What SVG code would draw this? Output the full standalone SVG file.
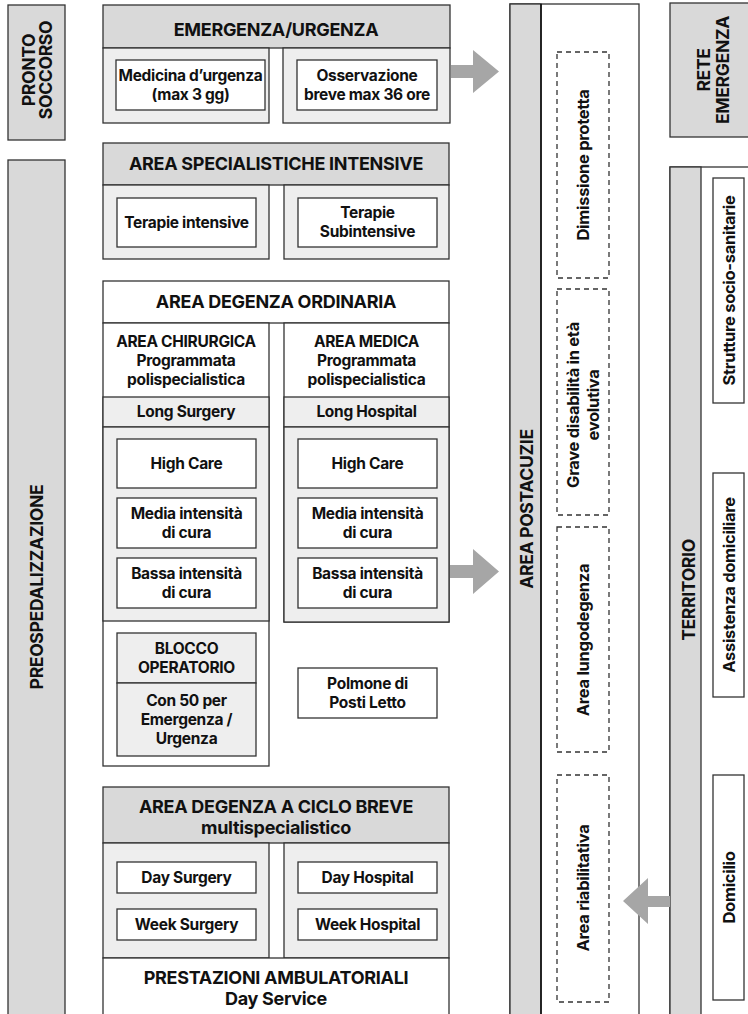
<svg xmlns="http://www.w3.org/2000/svg" width="748" height="1014" viewBox="0 0 748 1014">
<style>
  .hd { fill: #d9d9d9; stroke: #333; stroke-width: 1.3; }
  .pn { fill: #eeeeee; stroke: #333; stroke-width: 1.3; }
  .wb { fill: #ffffff; stroke: #333; stroke-width: 1.3; }
  .db { fill: none; stroke: #333; stroke-width: 1.3; stroke-dasharray: 5 4; }
  .ln { stroke: #111; stroke-width: 1.6; fill: none; }
  .arr { fill: #a6a6a6; }
  text { font-family: Inter, "Liberation Sans", Arial, sans-serif; font-weight: 700; fill: #111; text-anchor: middle; letter-spacing: -0.3px; }
  .t15 { font-size: 15.5px; }
  .t17 { font-size: 18px; }
  .tv { font-size: 16.5px; }
  .tc { font-size: 17.5px; }
</style>
<rect width="748" height="1014" fill="#ffffff"/>

<!-- left side bands -->
<g id="pronto-soccorso">
  <rect class="hd" x="8" y="5" width="57" height="135"/>
  <g transform="translate(0,70) rotate(-90)">
    <text class="tc" x="0" y="35">PRONTO</text>
    <text class="tc" x="0" y="52">SOCCORSO</text>
  </g>
</g>

<g id="preospedalizzazione">
  <rect class="hd" x="8" y="160" width="57" height="870"/>
  <text class="tc" transform="translate(0,587) rotate(-90)" x="0" y="43">PREOSPEDALIZZAZIONE</text>
</g>

<!-- emergency block -->
<g id="emergenza-urgenza">
  <rect class="hd" x="103" y="5" width="347" height="43"/>
  <text class="t17" x="276" y="36">EMERGENZA/URGENZA</text>
  <rect class="pn" x="103" y="48" width="166" height="75"/>
  <rect class="pn" x="283" y="48" width="167" height="75"/>
</g>
<g id="medicina-urgenza">
  <rect class="wb" x="116" y="60" width="149" height="50"/>
  <text class="t15" x="190.5" y="80.5">Medicina d’urgenza</text>
  <text class="t15" x="190.5" y="99.5">(max 3 gg)</text>
</g>
<g id="osservazione-breve">
  <rect class="wb" x="297" y="60" width="140" height="50"/>
  <text class="t15" x="367" y="80.5">Osservazione</text>
  <text class="t15" x="367" y="99.5">breve max 36 ore</text>
</g>

<!-- intensive care block -->
<g id="area-specialistiche-intensive">
  <rect class="hd" x="103" y="143" width="346" height="42"/>
  <text class="t17" x="276" y="170">AREA SPECIALISTICHE INTENSIVE</text>
  <rect class="pn" x="103" y="185" width="166" height="74"/>
  <rect class="pn" x="284" y="185" width="165" height="74"/>
</g>
<g id="terapie-intensive">
  <rect class="wb" x="117" y="198" width="139" height="49"/>
  <text class="t15" x="186.5" y="228">Terapie intensive</text>
</g>
<g id="terapie-subintensive">
  <rect class="wb" x="298" y="198" width="139" height="49"/>
  <text class="t15" x="367.5" y="218">Terapie</text>
  <text class="t15" x="367.5" y="237">Subintensive</text>
</g>

<!-- ordinary ward block -->
<g id="area-degenza-ordinaria">
  <rect class="wb" x="103" y="281" width="346" height="42"/>
  <text class="t17" x="276" y="308">AREA DEGENZA ORDINARIA</text>
</g>
<g id="area-chirurgica">
  <rect class="wb" x="103" y="323" width="166" height="443"/>
  <text class="t15" x="186" y="347">AREA CHIRURGICA</text>
  <text class="t15" x="186" y="366">Programmata</text>
  <text class="t15" x="186" y="385">polispecialistica</text>
  <rect class="pn" x="103" y="397" width="166" height="30"/>
  <text class="t15" x="186" y="417">Long Surgery</text>
  <rect class="pn" x="103" y="427" width="166" height="194"/>
</g>
<g id="area-medica">
  <rect class="wb" x="284" y="323" width="165" height="299"/>
  <text class="t15" x="366.5" y="347">AREA MEDICA</text>
  <text class="t15" x="366.5" y="366">Programmata</text>
  <text class="t15" x="366.5" y="385">polispecialistica</text>
  <rect class="pn" x="284" y="397" width="165" height="30"/>
  <text class="t15" x="366.5" y="417">Long Hospital</text>
  <rect class="pn" x="284" y="427" width="165" height="195"/>
</g>
<g id="high-care-chirurgica">
  <rect class="wb" x="117" y="439" width="139" height="49"/>
  <text class="t15" x="186.5" y="469">High Care</text>
</g>
<g id="media-intensita-chirurgica">
  <rect class="wb" x="117" y="498" width="139" height="50"/>
  <text class="t15" x="186.5" y="518.5">Media intensità</text>
  <text class="t15" x="186.5" y="537.5">di cura</text>
</g>
<g id="bassa-intensita-chirurgica">
  <rect class="wb" x="117" y="558" width="139" height="50"/>
  <text class="t15" x="186.5" y="578.5">Bassa intensità</text>
  <text class="t15" x="186.5" y="597.5">di cura</text>
</g>
<g id="high-care-medica">
  <rect class="wb" x="298" y="439" width="139" height="49"/>
  <text class="t15" x="367.5" y="469">High Care</text>
</g>
<g id="media-intensita-medica">
  <rect class="wb" x="298" y="498" width="139" height="50"/>
  <text class="t15" x="367.5" y="518.5">Media intensità</text>
  <text class="t15" x="367.5" y="537.5">di cura</text>
</g>
<g id="bassa-intensita-medica">
  <rect class="wb" x="298" y="558" width="139" height="50"/>
  <text class="t15" x="367.5" y="578.5">Bassa intensità</text>
  <text class="t15" x="367.5" y="597.5">di cura</text>
</g>
<g id="blocco-operatorio">
  <rect class="pn" x="117" y="633" width="139" height="50"/>
  <text class="t15" x="186.5" y="653.5">BLOCCO</text>
  <text class="t15" x="186.5" y="672.5">OPERATORIO</text>
  <rect class="pn" x="117" y="683" width="139" height="73"/>
  <text class="t15" x="186.5" y="706">Con 50 per</text>
  <text class="t15" x="186.5" y="725">Emergenza /</text>
  <text class="t15" x="186.5" y="744">Urgenza</text>
</g>
<g id="polmone-posti-letto">
  <rect class="wb" x="298" y="668" width="139" height="50"/>
  <text class="t15" x="367.5" y="688.5">Polmone di</text>
  <text class="t15" x="367.5" y="707.5">Posti Letto</text>
</g>

<!-- short-stay block -->
<g id="area-degenza-ciclo-breve">
  <rect class="hd" x="103" y="787" width="346" height="56"/>
  <text class="t17" x="276" y="813">AREA DEGENZA A CICLO BREVE</text>
  <text class="t17" x="276" y="834">multispecialistico</text>
  <rect class="pn" x="103" y="843" width="166" height="115"/>
  <rect class="pn" x="284" y="843" width="165" height="115"/>
</g>
<g id="day-surgery">
  <rect class="wb" x="117" y="862" width="139" height="31"/>
  <text class="t15" x="186.5" y="883">Day Surgery</text>
</g>
<g id="week-surgery">
  <rect class="wb" x="117" y="909" width="139" height="31"/>
  <text class="t15" x="186.5" y="930">Week Surgery</text>
</g>
<g id="day-hospital">
  <rect class="wb" x="298" y="862" width="139" height="31"/>
  <text class="t15" x="367.5" y="883">Day Hospital</text>
</g>
<g id="week-hospital">
  <rect class="wb" x="298" y="909" width="139" height="31"/>
  <text class="t15" x="367.5" y="930">Week Hospital</text>
</g>
<g id="prestazioni-ambulatoriali">
  <rect class="wb" x="103" y="958" width="346" height="80"/>
  <text class="t17" x="276" y="984">PRESTAZIONI AMBULATORIALI</text>
  <text class="t17" x="276" y="1005">Day Service</text>
</g>

<!-- post-acute column -->
<g id="area-postacuzie">
  <rect class="wb" x="510" y="4" width="129" height="1030"/>
  <rect class="hd" x="510" y="4" width="31" height="1030"/>
  <line class="ln" x1="541" y1="4" x2="541" y2="1034"/>
  <text class="tc" transform="translate(0,509) rotate(-90)" x="0" y="533">AREA POSTACUZIE</text>
</g>
<g id="dimissione-protetta">
  <rect class="db" x="557" y="52" width="52" height="226"/>
  <text class="tv" transform="translate(0,165) rotate(-90)" x="0" y="589">Dimissione protetta</text>
</g>
<g id="grave-disabilita">
  <rect class="db" x="557" y="289" width="52" height="226"/>
  <g transform="translate(0,405) rotate(-90)">
    <text class="tv" x="0" y="579">Grave disabilità in età</text>
    <text class="tv" x="0" y="599">evolutiva</text>
  </g>
</g>
<g id="area-lungodegenza">
  <rect class="db" x="557" y="527" width="52" height="225"/>
  <text class="tv" transform="translate(0,640) rotate(-90)" x="0" y="589">Area lungodegenza</text>
</g>
<g id="area-riabilitativa">
  <rect class="db" x="557" y="775" width="52" height="227"/>
  <text class="tv" transform="translate(0,888) rotate(-90)" x="0" y="589">Area riabilitativa</text>
</g>

<!-- right column -->
<g id="rete-emergenza">
  <rect class="hd" x="670" y="3" width="90" height="134"/>
  <g transform="translate(0,70) rotate(-90)">
    <text class="tc" x="0" y="710">RETE</text>
    <text class="tc" x="0" y="729">EMERGENZA</text>
  </g>
</g>
<g id="territorio">
  <rect class="wb" x="670" y="167" width="90" height="870"/>
  <rect class="hd" x="670" y="167" width="31" height="870"/>
  <text class="tc" transform="translate(0,590) rotate(-90)" x="0" y="695">TERRITORIO</text>
</g>
<g id="strutture-socio-sanitarie">
  <rect class="wb" x="713" y="178" width="31" height="225"/>
  <text class="tv" transform="translate(0,290.5) rotate(-90)" x="0" y="735">Strutture socio-sanitarie</text>
</g>
<g id="assistenza-domiciliare">
  <rect class="wb" x="713" y="473" width="31" height="224"/>
  <text class="tv" transform="translate(0,585) rotate(-90)" x="0" y="735">Assistenza domiciliare</text>
</g>
<g id="domicilio">
  <rect class="wb" x="713" y="775" width="31" height="225"/>
  <text class="tv" transform="translate(0,887.5) rotate(-90)" x="0" y="735">Domicilio</text>
</g>

<!-- flow arrows -->
<g id="connectors">
  <polygon class="arr" points="451,65 473,65 473,50 499,71.5 473,93 473,78 451,78"/>
  <polygon class="arr" points="450,565 473,565 473,549 499,571.5 473,594 473,578 450,578"/>
  <polygon class="arr" points="670,896 648,896 648,878 623,901 648,924 648,907 670,907"/>
</g>
</svg>
